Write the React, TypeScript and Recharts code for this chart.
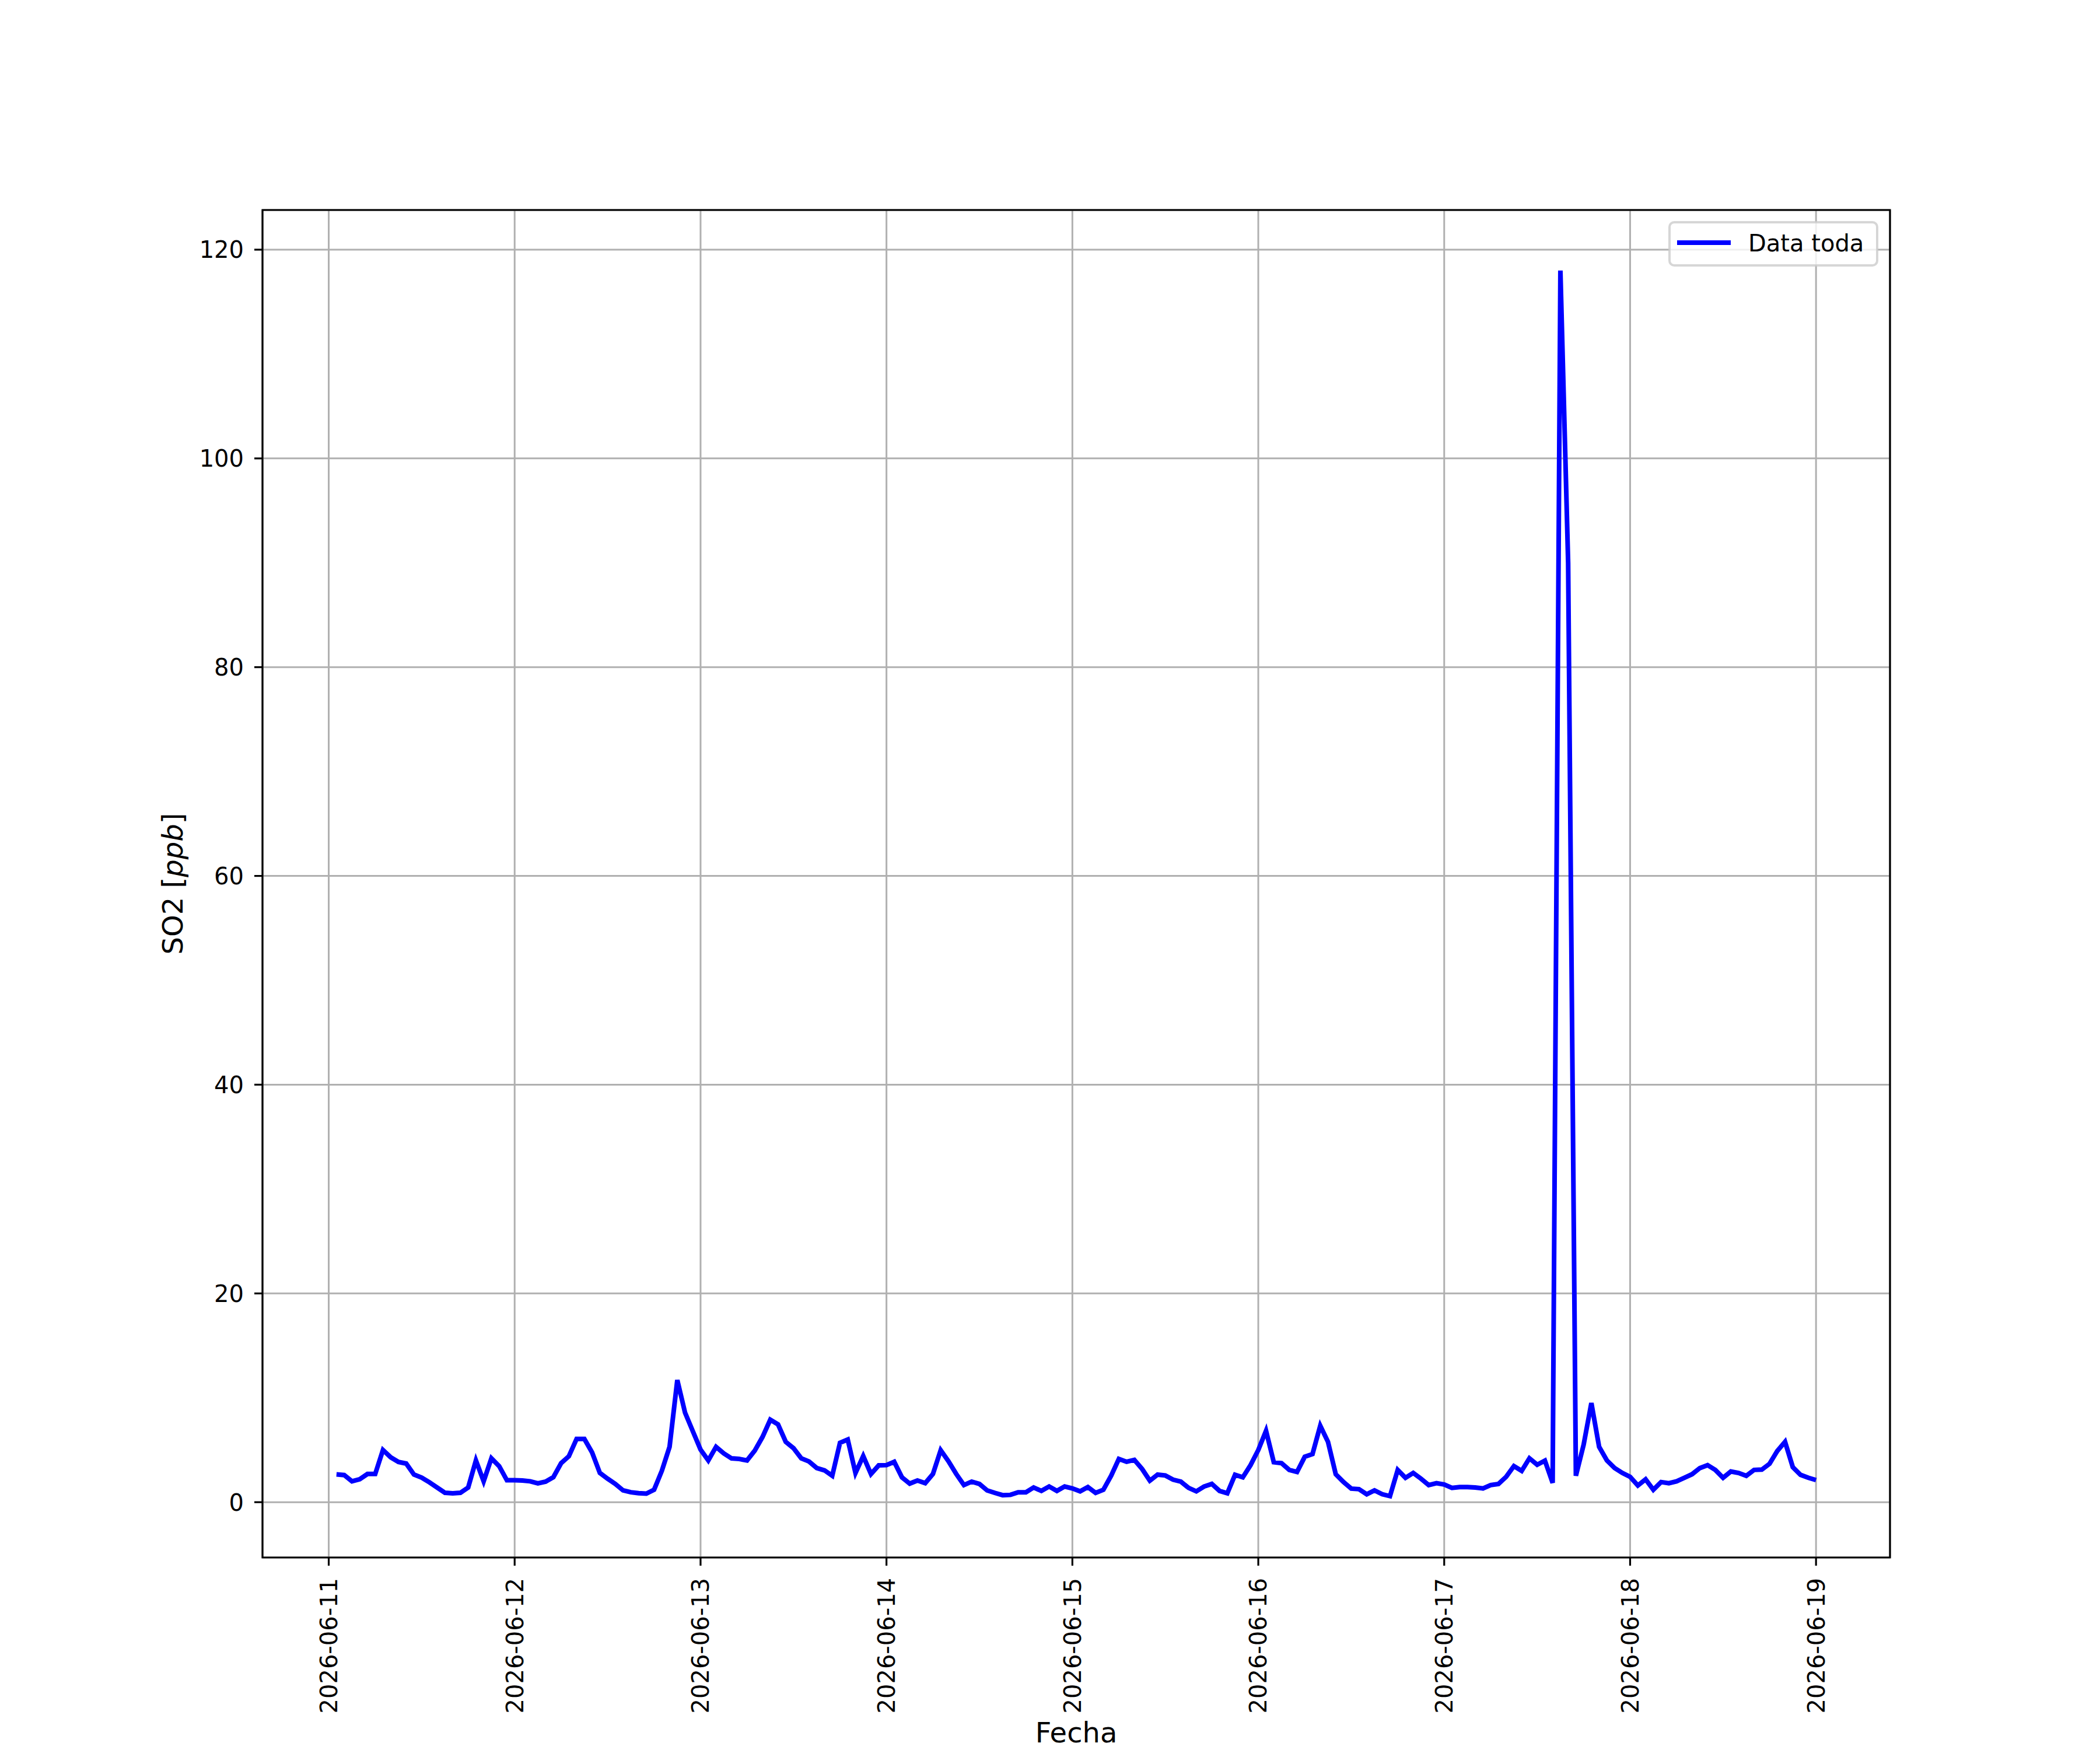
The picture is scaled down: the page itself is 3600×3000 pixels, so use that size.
import React from 'react';
import { LineChart, Line, XAxis, YAxis, CartesianGrid, Legend, ReferenceArea } from 'recharts';

// Hourly SO2 values (ppb), 2026-06-11 01:00 through 2026-06-19 00:00
const so2Jun11 = [2.66, 2.6, 2.0, 2.2, 2.7, 2.7, 5.0, 4.3, 3.85, 3.7, 2.65, 2.35, 1.9, 1.4, 0.9, 0.85, 0.9, 1.4, 4.0, 2.0, 4.2, 3.45, 2.1, 2.1];
const so2Jun12 = [2.08, 2.0, 1.8, 1.97, 2.4, 3.74, 4.4, 6.06, 6.06, 4.76, 2.8, 2.25, 1.75, 1.13, 0.95, 0.86, 0.82, 1.19, 3.0, 5.3, 11.7, 8.57, 6.8, 5.04];
const so2Jun13 = [4.0, 5.3, 4.67, 4.2, 4.14, 4.0, 4.94, 6.25, 7.9, 7.45, 5.78, 5.17, 4.2, 3.9, 3.27, 3.05, 2.53, 5.69, 6.0, 2.8, 4.42, 2.7, 3.53, 3.55];
const so2Jun14 = [3.87, 2.38, 1.78, 2.08, 1.82, 2.7, 4.98, 3.92, 2.71, 1.64, 1.97, 1.75, 1.13, 0.89, 0.67, 0.7, 0.95, 0.95, 1.41, 1.08, 1.5, 1.08, 1.5, 1.32];
const so2Jun15 = [1.04, 1.45, 0.89, 1.19, 2.53, 4.14, 3.87, 4.05, 3.18, 2.06, 2.64, 2.56, 2.16, 1.97, 1.37, 1.04, 1.5, 1.75, 1.08, 0.86, 2.62, 2.38, 3.55, 5.0];
const so2Jun16 = [6.84, 3.83, 3.74, 3.09, 2.9, 4.35, 4.61, 7.32, 5.78, 2.68, 1.93, 1.3, 1.25, 0.76, 1.13, 0.76, 0.58, 3.09, 2.34, 2.8, 2.25, 1.64, 1.82, 1.69];
const so2Jun17 = [1.37, 1.45, 1.45, 1.41, 1.32, 1.64, 1.75, 2.43, 3.46, 3.0, 4.2, 3.59, 3.98, 1.85, 118.0, 90.0, 2.53, 5.5, 9.5, 5.3, 4.0, 3.27, 2.8, 2.43];
const so2Jun18 = [1.6, 2.19, 1.19, 1.93, 1.82, 2.0, 2.34, 2.68, 3.27, 3.55, 3.09, 2.34, 2.94, 2.8, 2.53, 3.09, 3.12, 3.68, 4.91, 5.78, 3.36, 2.62, 2.34, 2.12];

const so2Values = [
  ...so2Jun11, ...so2Jun12, ...so2Jun13, ...so2Jun14,
  ...so2Jun15, ...so2Jun16, ...so2Jun17, ...so2Jun18,
];

// x positions in hours since 2026-06-11 00:00
const xTicks = [0, 24, 48, 72, 96, 120, 144, 168, 192];
const xTickLabels = [
  '2026-06-11', '2026-06-12', '2026-06-13', '2026-06-14', '2026-06-15',
  '2026-06-16', '2026-06-17', '2026-06-18', '2026-06-19',
];
const yTicks = [0, 20, 40, 60, 80, 100, 120];

const data = so2Values.map((v, i) => ({ h: i + 1, so2: v }));

const X_DOMAIN: [number, number] = [-8.55, 201.55];
const Y_DOMAIN: [number, number] = [-5.3, 123.8];

const FONT = 'DejaVu Sans';

const XTick = (props: any) => {
  const { x, y, payload } = props;
  const idx = xTicks.indexOf(payload.value);
  return (
    <text
      transform={`translate(${x},${y}) rotate(-90)`}
      textAnchor="end"
      dy="0.36em"
      fontSize={40}
      fontFamily={FONT}
      fill="#000"
    >
      {idx >= 0 ? xTickLabels[idx] : ''}
    </text>
  );
};

const YTick = (props: any) => {
  const { x, y, payload } = props;
  return (
    <text x={x} y={y} textAnchor="end" dy="0.36em" fontSize={40} fontFamily={FONT} fill="#000">
      {payload.value}
    </text>
  );
};

const YLabel = () => (
  <text
    x={313}
    y={1515}
    transform="rotate(-90 313 1515)"
    textAnchor="middle"
    fontSize={48}
    fontFamily={FONT}
    fill="#000"
  >
    {'SO2 ['}
    <tspan fontStyle="italic">ppb</tspan>
    {']'}
  </text>
);

const XLabel = () => (
  <text x={1845} y={2987} textAnchor="middle" fontSize={48} fontFamily={FONT} fill="#000">
    Fecha
  </text>
);

const LegendBox = () => (
  <div style={{ width: 362, height: 80 }}>
    <svg width={362} height={80} style={{ display: 'block' }}>
      <rect x={2} y={2} width={356} height={74} rx={8} ry={8} fill="rgba(255,255,255,0.8)" stroke="rgba(204,204,204,0.8)" strokeWidth={4} />
      <line x1={15} y1={37} x2={107} y2={37} stroke="#0000ff" strokeWidth={8} />
      <text x={137} y={52} fontSize={40} fontFamily={FONT} fill="#000">Data toda</text>
    </svg>
  </div>
);

export default function App() {
  return (
    <div style={{ position: 'absolute', left: 0, top: 0, width: 3600, height: 3000, background: '#fff' }}>
      <LineChart
        width={3600}
        height={3000}
        data={data}
        margin={{ top: 360, right: 360, bottom: 30, left: 150 }}
      >
        <CartesianGrid stroke="#b0b0b0" strokeWidth={3} />
        <XAxis
          dataKey="h"
          type="number"
          domain={X_DOMAIN}
          ticks={xTicks}
          allowDataOverflow
          height={300}
          axisLine={false}
          tickLine={{ stroke: '#000', strokeWidth: 3.2 }}
          tickSize={14}
          tickMargin={21}
          tick={<XTick />}
          interval={0}
          label={<XLabel />}
        />
        <YAxis
          type="number"
          domain={Y_DOMAIN}
          ticks={yTicks}
          allowDataOverflow
          width={300}
          axisLine={false}
          tickLine={{ stroke: '#000', strokeWidth: 3.2 }}
          tickSize={14}
          tickMargin={18}
          tick={<YTick />}
          interval={0}
          label={<YLabel />}
        />
        <ReferenceArea
          x1={X_DOMAIN[0]}
          x2={X_DOMAIN[1]}
          y1={Y_DOMAIN[0]}
          y2={Y_DOMAIN[1]}
          fill="none"
          fillOpacity={0}
          stroke="#000"
          strokeWidth={3.2}
          ifOverflow="visible"
        />
        <Legend
          layout="vertical"
          align="center"
          verticalAlign="middle"
          wrapperStyle={{ position: 'absolute', top: 379, left: 2860, width: 362, height: 80 }}
          content={<LegendBox />}
        />
        <Line
          type="linear"
          dataKey="so2"
          name="Data toda"
          stroke="#0000ff"
          strokeWidth={8}
          dot={false}
          activeDot={false}
          isAnimationActive={false}
        />
      </LineChart>
    </div>
  );
}
